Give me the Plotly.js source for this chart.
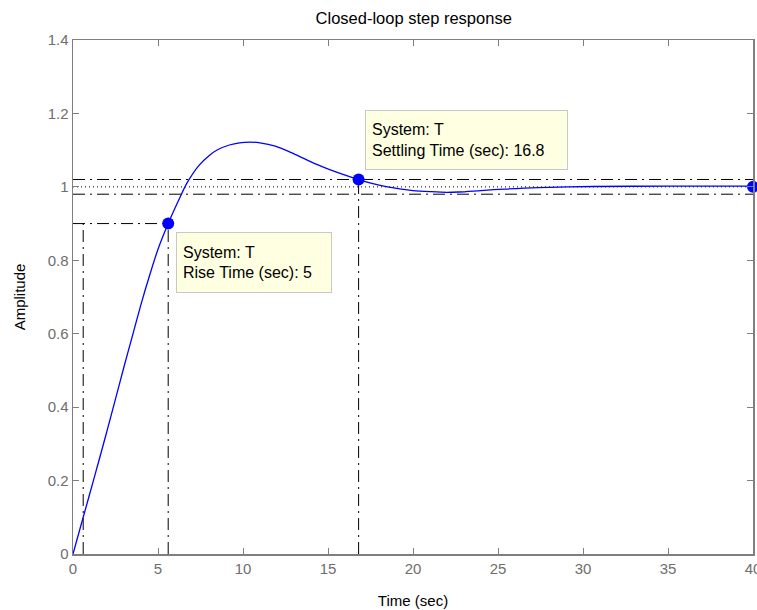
<!DOCTYPE html>
<html>
<head>
<meta charset="utf-8">
<script src="https://cdn.plot.ly/plotly-3.0.1.min.js"></script>
<style>html,body{margin:0;padding:0;background:#fff;}#chart{width:757px;height:610px;}</style>
</head>
<body>
<div id="chart"></div>
<script>
// Step response samples
const timeSec = [0, 0.6, 1.2, 1.9, 2.4, 3.0, 3.5, 4.0, 4.5, 5.0, 5.6, 6.2, 6.7, 7.4, 8.0, 8.5, 9.2, 9.8, 10.4, 11.0, 11.9, 13.0, 14.3, 15.5, 16.8, 17.7, 18.5, 19.3, 20.0, 21.0, 22.0, 22.7, 24.0, 25.4, 27.4, 30.6, 35.0, 40.0];
const amplitude = [0, 0.10, 0.20, 0.318, 0.405, 0.51, 0.595, 0.68, 0.758, 0.83, 0.90, 0.962, 1.010, 1.058, 1.085, 1.101, 1.114, 1.120, 1.122, 1.120, 1.111, 1.090, 1.062, 1.040, 1.020, 1.008, 1.0, 0.994, 0.990, 0.987, 0.985, 0.986, 0.990, 0.994, 0.998, 1.001, 1.002, 1.002];

// Characteristics
const riseStartTime = 0.6;
const riseEndTime = 5.6;
const riseLevel = 0.9;
const settleTime = 16.8;
const settleLevel = 1.02;
const bandLow = 0.98;
const bandHigh = 1.02;
const finalValue = 1.0;
const tEnd = 40;

const xTicks = [0, 5, 10, 15, 20, 25, 30, 35, 40];
const yTicks = [0, 0.2, 0.4, 0.6, 0.8, 1, 1.2, 1.4];

const dashDot = "12px,5px,2px,5px";
const black = "#000000";
const blue = "#0000ff";

function refLine(xs, ys, dash) {
  return {x: xs, y: ys, mode: "lines", type: "scatter", hoverinfo: "skip", showlegend: false,
          line: {color: black, width: 1, dash: dash}};
}

const traces = [
  refLine([0, riseEndTime], [riseLevel, riseLevel], dashDot),
  refLine([riseStartTime, riseStartTime], [0, riseLevel], dashDot),
  refLine([riseEndTime, riseEndTime], [0, riseLevel], dashDot),
  refLine([0, tEnd], [bandHigh, bandHigh], dashDot),
  refLine([0, tEnd], [bandLow, bandLow], dashDot),
  refLine([0, tEnd], [finalValue, finalValue], "1px,3px"),
  refLine([settleTime, settleTime], [0, settleLevel], dashDot),
  {x: timeSec, y: amplitude, mode: "lines", type: "scatter", showlegend: false,
   line: {color: blue, width: 1.3, shape: "spline", smoothing: 0.8}},
  {x: [riseEndTime, settleTime, tEnd], y: [riseLevel, settleLevel, finalValue], mode: "markers", type: "scatter",
   showlegend: false, cliponaxis: false, marker: {color: blue, size: 12}}
];

const tickFont = {family: "Liberation Sans, Arial, sans-serif", size: 15, color: "#6e6e6e"};
const boxFont = {family: "Liberation Sans, Arial, sans-serif", size: 16, color: "#000000"};

const layout = {
  width: 757, height: 610,
  margin: {l: 73, r: 4, t: 40, b: 56, pad: 0},
  paper_bgcolor: "#ffffff", plot_bgcolor: "#ffffff",
  title: {text: "Closed-loop step response", font: {family: "Liberation Sans, Arial, sans-serif", size: 16.5, color: "#000"},
          x: 0.5465, xanchor: "center", y: 0.97, yanchor: "middle"},
  xaxis: {range: [0, 40], tickvals: xTicks, ticktext: xTicks.map(String), ticks: "inside", ticklen: 6, tickcolor: "#7f7f7f",
          showline: true, linecolor: "#7f7f7f", linewidth: 1.5, mirror: "ticks", showgrid: false, zeroline: false,
          tickfont: tickFont, ticklabeloverflow: "allow",
          title: {text: "Time (sec)", font: {family: "Liberation Sans, Arial, sans-serif", size: 15, color: "#000"}, standoff: 20}},
  yaxis: {range: [0, 1.4], tickvals: yTicks, ticktext: yTicks.map(String), ticks: "inside", ticklen: 6, tickcolor: "#7f7f7f",
          showline: true, linecolor: "#7f7f7f", linewidth: 1.5, mirror: "ticks", showgrid: false, zeroline: false,
          tickfont: tickFont,
          title: {text: "Amplitude", font: {family: "Liberation Sans, Arial, sans-serif", size: 15, color: "#000"}, standoff: 18}},
  annotations: [
    {x: 6.06, y: 0.877, xref: "x", yref: "y", xanchor: "left", yanchor: "top", showarrow: false,
     text: "System: T<br>Rise Time (sec): 5", align: "left", valign: "middle", width: 142, height: 47,
     bgcolor: "#ffffe1", bordercolor: "#c8c8c8", borderwidth: 1, borderpad: 6, font: boxFont},
    {x: 17.18, y: 1.209, xref: "x", yref: "y", xanchor: "left", yanchor: "top", showarrow: false,
     text: "System: T<br>Settling Time (sec): 16.8", align: "left", valign: "middle", width: 189, height: 46,
     bgcolor: "#ffffe1", bordercolor: "#c8c8c8", borderwidth: 1, borderpad: 6, font: boxFont}
  ]
};

Plotly.newPlot("chart", traces, layout, {displayModeBar: false, staticPlot: true});
</script>
</body>
</html>
